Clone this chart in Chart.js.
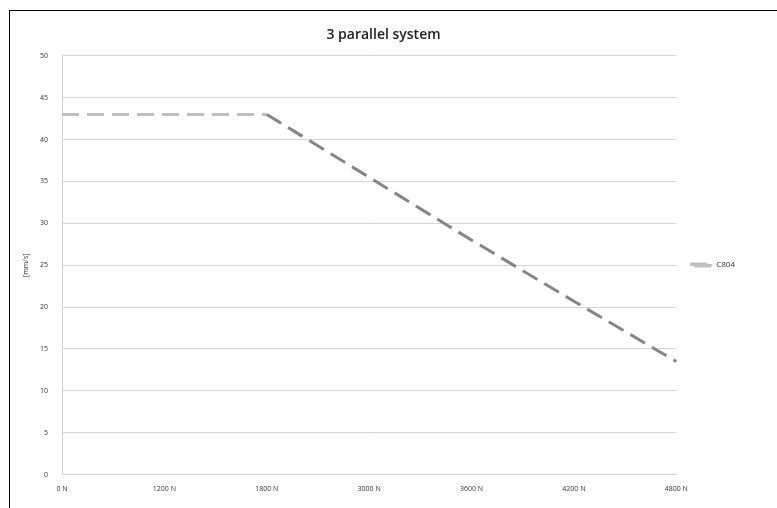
<!DOCTYPE html>
<html>
<head>
<meta charset="utf-8">
<script src="https://cdn.jsdelivr.net/npm/chart.js@4"></script>
<style>
  html, body { margin: 0; padding: 0; background: #fff; }
  #wrap { position: relative; width: 777px; height: 508px; overflow: hidden; }
  #frame { position: absolute; left: 9px; top: 10px; width: 820px; height: 540px; border: 1px solid #000; }
  #grafico { position: absolute; left: 0; top: 0; }
</style>
</head>
<body>
<div id="wrap">
  <div id="frame"></div>
  <canvas id="grafico" width="777" height="508"></canvas>
</div>
<script>
// valores
const forcas = ['0 N', '1200 N', '1800 N', '3000 N', '3600 N', '4200 N', '4800 N'];
const velocidades = [43, 43, 43, 35.5, 28, 20.7, 13.5];
const yTicks = [0, 5, 10, 15, 20, 25, 30, 35, 40, 45, 50];

const fonte = "'Open Sans', 'Liberation Sans', sans-serif";

new Chart(document.getElementById('grafico'), {
  type: 'line',
  data: {
    labels: forcas,
    datasets: [{
      label: 'C804',
      data: velocidades,
      borderColor: '#bfbfbf',
      backgroundColor: '#bfbfbf',
      borderWidth: 3,
      borderDash: [17, 8],
      pointRadius: 0,
      tension: 0,
      segment: {
        // trecho inclinado mais escuro
        borderColor: ctx => ctx.p0.parsed.y !== ctx.p1.parsed.y ? '#858585' : '#bfbfbf'
      }
    }]
  },
  options: {
    responsive: false,
    animation: false,
    layout: { padding: { left: 22, right: 32, top: 27, bottom: 5 } },
    plugins: {
      title: {
        display: true,
        text: '3 parallel system',
        color: '#222',
        font: { family: fonte, size: 14, weight: '600' },
        padding: { top: 0, bottom: 12 }
      },
      legend: {
        position: 'right',
        labels: {
          color: '#333',
          font: { family: fonte, size: 8 },
          boxWidth: 22,
          boxHeight: 2,
          padding: 14
        }
      },
      tooltip: { enabled: false }
    },
    scales: {
      x: {
        type: 'category',
        offset: false,
        grid: { display: false, drawTicks: false },
        border: { color: '#d0d0d0', width: 1 },
        ticks: {
          color: '#333',
          font: { family: fonte, size: 7 },
          maxRotation: 0,
          autoSkip: false,
          padding: 10
        }
      },
      y: {
        min: 0,
        max: 50,
        afterBuildTicks: axis => { axis.ticks = yTicks.map(v => ({ value: v })); },
        afterFit: axis => { axis.width = 40; },
        grid: { color: '#d4d4d4', lineWidth: 1, drawTicks: false },
        border: { color: '#d0d0d0', width: 1 },
        title: {
          display: true,
          text: '[mm/s]',
          color: '#333',
          font: { family: fonte, size: 7 },
          padding: 0
        },
        ticks: {
          color: '#333',
          font: { family: fonte, size: 7 },
          padding: 14
        }
      }
    }
  }
});
</script>
</body>
</html>
